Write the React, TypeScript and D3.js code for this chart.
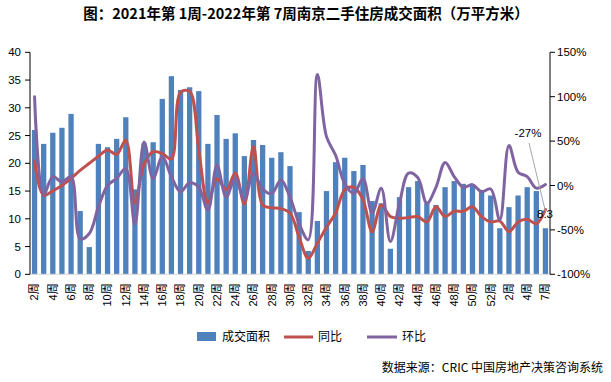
import React from 'react';
import * as d3 from 'd3';

const categories = [
  '2周','3周','4周','5周','6周','7周','8周','9周','10周','11周','12周','13周','14周','15周','16周','17周','18周','19周','20周','21周',
  '22周','23周','24周','25周','26周','27周','28周','29周','30周','31周','32周','33周','34周','35周','36周','37周','38周','39周','40周','41周',
  '42周','43周','44周','45周','46周','47周','48周','49周','50周','51周','52周','1周','2周','3周','4周','6周','7周'
];

const area = [
  26.0, 23.5, 25.5, 26.4, 28.9, 11.4, 4.9, 23.5, 22.9, 24.4,
  28.3, 15.3, 23.6, 23.8, 31.6, 35.7, 33.2, 33.7, 33.0, 23.5,
  28.7, 24.4, 25.4, 21.3, 24.2, 23.3, 21.0, 22.0, 19.5, 11.2,
  4.2, 9.6, 15.0, 20.2, 21.0, 18.6, 19.7, 13.2, 12.8, 4.6,
  13.9, 15.7, 16.8, 12.8, 12.5, 15.7, 16.8, 16.3, 16.2, 15.2,
  14.2, 8.3, 12.1, 14.2, 15.7, 15.0, 8.3
];

const yoy = [
  28, -11, -6, 0, 8, 17, 25, 33, 40, 35,
  51, -20, 24, 38, 36, 30, 105, 106, 40, -20,
  8, -5, 14, -21, 44, -22, -25, -26, -31, -58,
  -82, -65, -47, -31, -5, -2, -16, -52, -22, -35,
  -37, -36, -35, -41, -24, -35, -29, -29, -24, -35,
  -41, -40, -52, -41, -38, -43, -27
];

const mom = [
  100, -10, 10, 4, 10, -60, -54, -24, 0, 8,
  19, -44, 49, 8, 32, 10, -7, 3, -2, -28,
  23, -13, 8, -16, 14, -4, -9, 6, -13, -43,
  -61, 125, 55, 34, 2, -9, 8, -31, -3, -63,
  -20, 14, 9, -20, -2, 26, 10, -2, 1, -7,
  -4, -39, 45, 15, 10, -3, 1
];

const leftTicks = [0, 5, 10, 15, 20, 25, 30, 35, 40];
const rightTicks = [-100, -50, 0, 50, 100, 150];

const W = 611;
const H = 382;
const L = 30;
const R = 550;
const TOP = 52.3;
const BOT = 274.3;

const BLUE = '#4F81BD';
const RED = '#C0504D';
const PURPLE = '#8064A2';
const FONT = '"Liberation Sans", "Noto Sans CJK SC", sans-serif';
const CJK = '"Noto Sans CJK SC", sans-serif';

export default function App() {
  const idx = categories.map((_, i) => i);
  const x = d3.scaleBand<number>().domain(idx).range([L, R]).paddingInner(0.42).paddingOuter(0.21);
  const yL = d3.scaleLinear().domain([0, 40]).range([BOT, TOP]);
  const yR = d3.scaleLinear().domain([-100, 150]).range([BOT, TOP]);
  const cx = (i: number) => (x(i) as number) + x.bandwidth() / 2;

  const line = d3.line<number>()
    .x((_, i) => cx(i))
    .y((d) => yR(d))
    .curve(d3.curveCatmullRom.alpha(0.5));

  const lastI = categories.length - 1;

  return (
    <div style={{ position: 'absolute', left: 0, top: 0 }}>
      <svg width={W} height={H} style={{ display: 'block', background: '#fff' }}>
        <text x={306} y={19} textAnchor="middle" fontFamily={CJK} fontWeight="bold" fontSize={14.5} fill="#000">
          图：2021年第 1周-2022年第 7周南京二手住房成交面积（万平方米）
        </text>

        {/* bars */}
        {area.map((v, i) => (
          <rect key={i} x={x(i)} y={yL(v)} width={x.bandwidth()} height={yL(0) - yL(v)} fill={BLUE} />
        ))}

        {/* x axis */}
        <line x1={L} x2={R} y1={BOT} y2={BOT} stroke="#D9D9D9" strokeWidth={1} />

        {/* left axis */}
        <line x1={L} x2={L} y1={TOP} y2={BOT} stroke="#000" strokeWidth={1} />
        {leftTicks.map((t) => (
          <g key={t}>
            <line x1={L - 5} x2={L} y1={yL(t)} y2={yL(t)} stroke="#000" />
            <text x={L - 9} y={yL(t)} dy="0.35em" textAnchor="end" fontFamily={FONT} fontSize={11.5} fill="#000">{t}</text>
          </g>
        ))}

        {/* right axis */}
        <line x1={R} x2={R} y1={TOP} y2={BOT} stroke="#000" strokeWidth={1} />
        {rightTicks.map((t) => (
          <g key={t}>
            <line x1={R} x2={R + 5} y1={yR(t)} y2={yR(t)} stroke="#000" />
            <text x={R + 7} y={yR(t)} dy="0.35em" textAnchor="start" fontFamily={FONT} fontSize={11.5} fill="#000">{t}%</text>
          </g>
        ))}

        {/* x labels */}
        {categories.map((c, i) =>
          i % 2 === 0 ? (
            <text key={i} transform={`translate(${cx(i)},${BOT + 9}) rotate(-90)`} dy="0.35em" textAnchor="end"
              fontFamily={FONT} fontSize={11} fill="#000">{c}</text>
          ) : null
        )}

        {/* lines */}
        <path d={line(yoy) || ''} fill="none" stroke={RED} strokeWidth={3} strokeLinejoin="round" strokeLinecap="round" />
        <path d={line(mom) || ''} fill="none" stroke={PURPLE} strokeWidth={3} strokeLinejoin="round" strokeLinecap="round" />

        {/* data labels */}
        <line x1={529} y1={143} x2={cx(lastI)} y2={yR(yoy[lastI]) + 2} stroke="#A6A6A6" strokeWidth={1} />
        <text x={528} y={137} textAnchor="middle" fontFamily={FONT} fontSize={11.5} fill="#000">-27%</text>
        <text x={545} y={218} textAnchor="middle" fontFamily={FONT} fontSize={11.5} fill="#000">{area[lastI]}</text>

        {/* legend */}
        <rect x={197} y={332} width={19} height={9} fill={BLUE} />
        <text x={222} y={337} dy="0.35em" fontFamily={CJK} fontSize={12} fill="#000">成交面积</text>
        <line x1={284} x2={313} y1={337} y2={337} stroke={RED} strokeWidth={3} />
        <text x={318} y={337} dy="0.35em" fontFamily={CJK} fontSize={12} fill="#000">同比</text>
        <line x1={367} x2={397} y1={337} y2={337} stroke={PURPLE} strokeWidth={3} />
        <text x={402} y={337} dy="0.35em" fontFamily={CJK} fontSize={12} fill="#000">环比</text>

        {/* source */}
        <text x={603} y={372} textAnchor="end" fontFamily={CJK} fontSize={12} fill="#000">数据来源：CRIC 中国房地产决策咨询系统</text>
      </svg>
    </div>
  );
}
